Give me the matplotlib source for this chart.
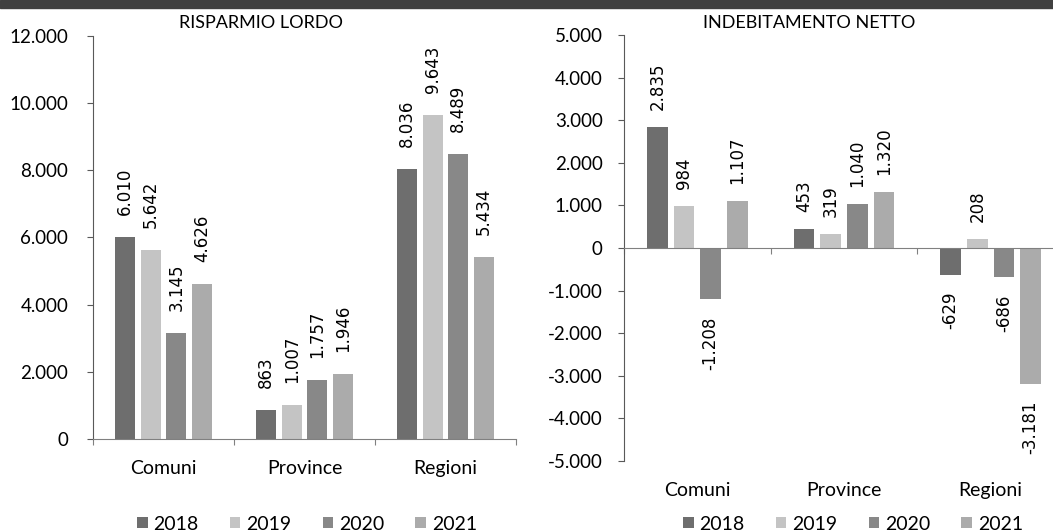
import matplotlib
matplotlib.use("Agg")
from matplotlib import pyplot as plt
from matplotlib.patches import Patch, Rectangle
from matplotlib.ticker import FuncFormatter, FixedLocator
import numpy as np

# data
categories = ['Comuni', 'Province', 'Regioni']
years = ['2018', '2019', '2020', '2021']
risparmio = {
    '2018': [6010, 863, 8036],
    '2019': [5642, 1007, 9643],
    '2020': [3145, 1757, 8489],
    '2021': [4626, 1946, 5434],
}
indebitamento = {
    '2018': [2835, 453, -629],
    '2019': [984, 319, 208],
    '2020': [-1208, 1040, -686],
    '2021': [1107, 1320, -3181],
}
colors = ['#6e6e6e', '#c4c4c4', '#888888', '#ababab']

plt.rcParams['font.family'] = ['Lato', 'DejaVu Sans']


def fmt(v):
    s = f"{abs(v):,.0f}".replace(",", ".")
    return "-" + s if v < 0 else s


def draw(ax, data, ylim, step, lab_off, zero_spine):
    x = np.arange(len(categories))
    for i, y in enumerate(years):
        xs = x + (i - 1.5) * 0.182
        ax.bar(xs, data[y], width=0.14, color=colors[i], zorder=2)
        # data labels, rotated
        for xx, v in zip(xs, data[y]):
            ax.annotate(fmt(v), xy=(xx, v), xytext=(0, lab_off if v >= 0 else -lab_off),
                        textcoords='offset points', rotation=90, ha='center',
                        va='bottom' if v >= 0 else 'top', fontsize=12,
                        family='DejaVu Sans', color='#000000')

    ax.set_xlim(-0.5, len(categories) - 0.5)
    ax.set_ylim(*ylim)
    ax.set_yticks(np.arange(ylim[0], ylim[1] + 1, step))
    ax.yaxis.set_major_formatter(FuncFormatter(lambda v, p: fmt(v)))
    ax.tick_params(axis='y', length=4.3, width=0.8, color='#595959', labelsize=13.5)
    ax.set_xticks([])
    ax.xaxis.set_minor_locator(FixedLocator(np.arange(-0.5, len(categories), 1)))
    ax.tick_params(axis='x', which='minor', length=4.3, width=0.8, color='#808080')
    for s in ['top', 'right']:
        ax.spines[s].set_visible(False)
    ax.spines['left'].set_color('#595959')
    ax.spines['bottom'].set_color('#808080')
    if zero_spine:
        ax.spines['bottom'].set_position(('data', 0))
    # category labels sit below the plot area
    for i, c in enumerate(categories):
        ax.annotate(c, xy=(i, 0), xycoords=('data', 'axes fraction'),
                    xytext=(0, -21.5), textcoords='offset points',
                    ha='center', va='center', fontsize=14)


fig = plt.figure(figsize=(10.53, 5.31), dpi=100)
ax1 = fig.add_axes([93 / 1053, 1 - 439 / 531, 423 / 1053, 403 / 531])
ax2 = fig.add_axes([624 / 1053, 1 - 461 / 531, 440 / 1053, 426 / 531])

draw(ax1, risparmio, (0, 12000), 2000, 15.8, False)
draw(ax2, indebitamento, (-5000, 5000), 1000, 12.2, True)
ax1.tick_params(axis='y', pad=13.5)
ax2.tick_params(axis='y', pad=11)

fig.text(261 / 1053, 1 - 23 / 531, 'RISPARMIO LORDO', ha='center', va='center', fontsize=13)
fig.text(809 / 1053, 1 - 23 / 531, 'INDEBITAMENTO NETTO', ha='center', va='center', fontsize=13)

# dark band on top
fig.add_artist(Rectangle((0, 1 - 8 / 531), 1, 8 / 531, transform=fig.transFigure,
                         color='#404040', zorder=5))

handles = [Patch(facecolor=c, label=y) for c, y in zip(colors, years)]
for cx in [307 / 1053, 853 / 1053]:
    fig.legend(handles=handles, loc='center', bbox_to_anchor=(cx, 1 - 524 / 531),
               ncol=4, frameon=False, fontsize=14, handlelength=0.55, handleheight=0.55,
               handletextpad=0.3, columnspacing=1.6, borderpad=0, borderaxespad=0)

fig.savefig('out.png', dpi=100)
